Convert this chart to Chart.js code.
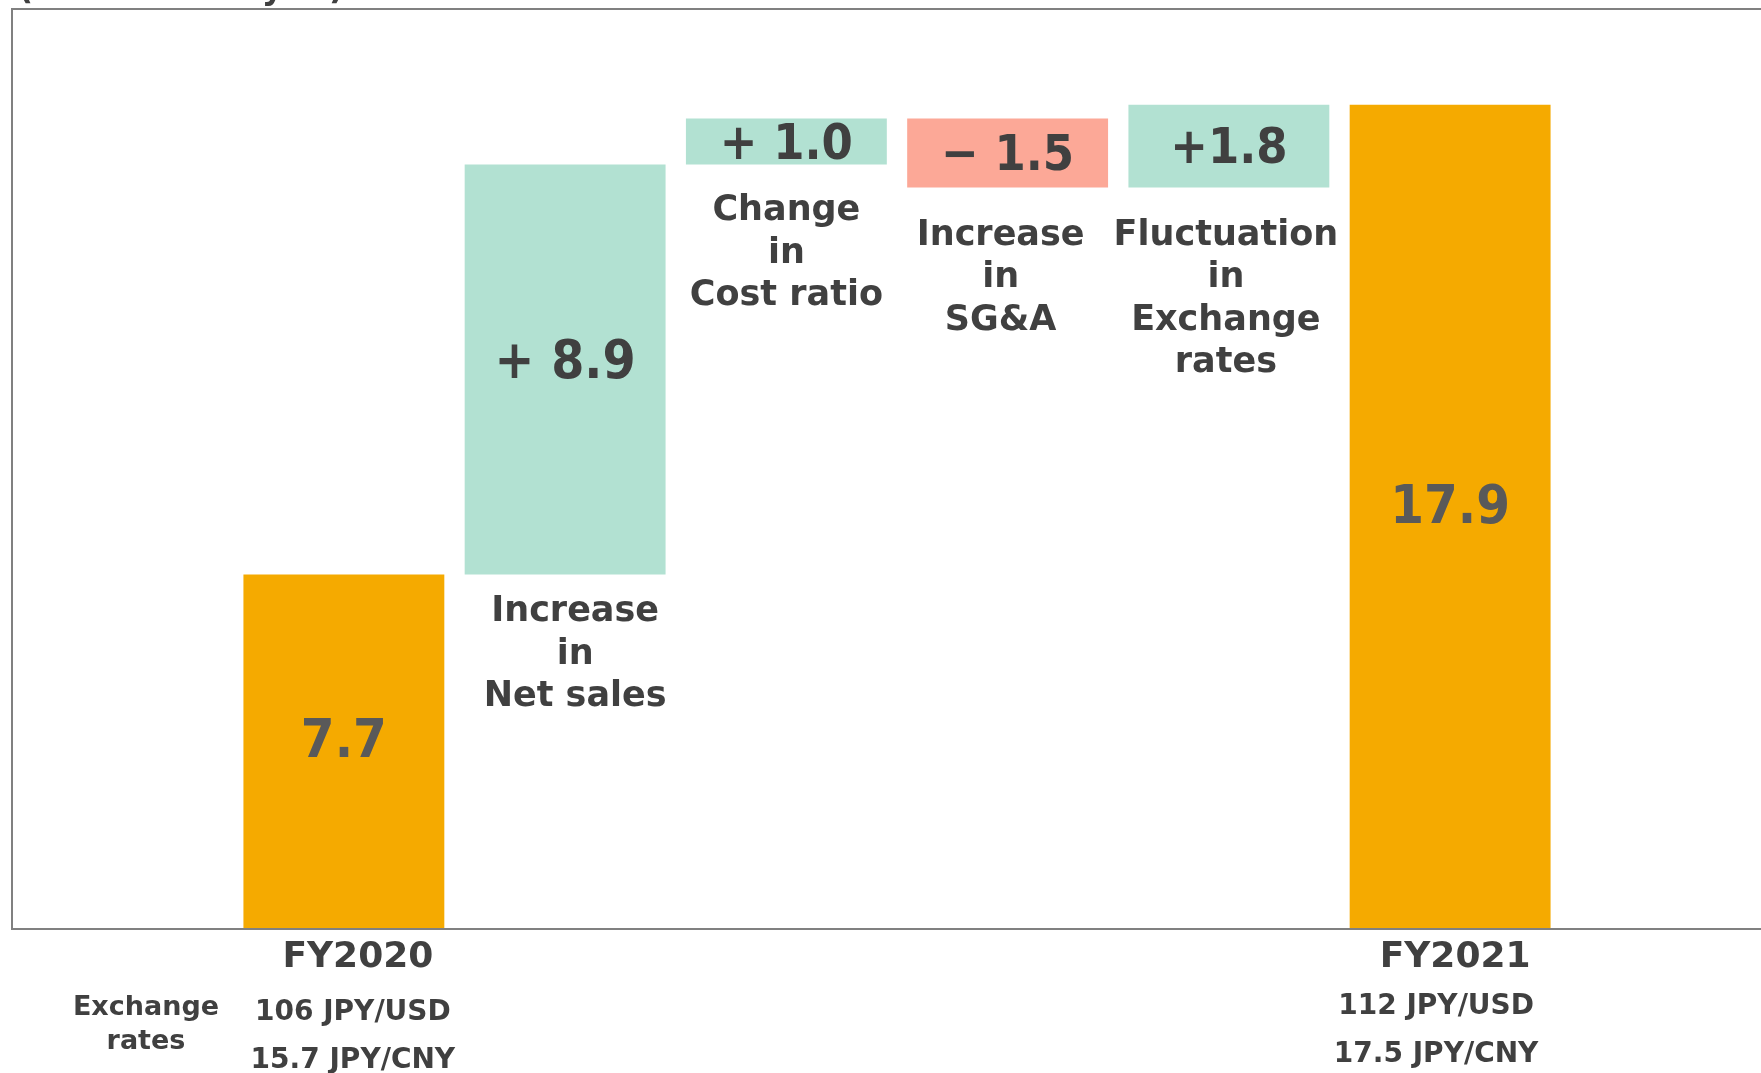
<!DOCTYPE html>
<html>
<head>
<meta charset="utf-8">
<script src="https://cdn.jsdelivr.net/npm/chart.js@4.4.1/dist/chart.umd.min.js"></script>
<style>
  html, body { margin: 0; padding: 0; background: #ffffff; overflow: hidden; }
  #wrap { width: 1761px; height: 1073px; overflow: hidden; position: relative; }
  #c { display: block; }
</style>
</head>
<body>
<div id="wrap"><canvas id="c" width="1782" height="1073"></canvas></div>
<script>
// Operating profit bridge, FY2020 -> FY2021 (billion yen)
const unitNote = '(Unit: billion yen)';
const totalLabels = ['FY2020', 'FY2021'];
const totalValues = [7.7, 17.9];
const stepLabels = [
  ['Increase', 'in', 'Net sales'],
  ['Change', 'in', 'Cost ratio'],
  ['Increase', 'in', 'SG&A'],
  ['Fluctuation', 'in', 'Exchange', 'rates']
];
const stepValues = [8.9, 1.0, -1.5, 1.8];
const stepSignGap = [' ', ' ', ' ', ''];
const rateTitle = ['Exchange', 'rates'];
const ratesStart = ['106 JPY/USD', '15.7 JPY/CNY'];
const ratesEnd = ['112 JPY/USD', '17.5 JPY/CNY'];
const yMin = 0, yMax = 20;

const COL_TOTAL = '#F5AA00';
const COL_UP = '#B2E1D2';
const COL_DOWN = '#FCA897';
const TXT_DARK = '#404040';
const TXT_GREY = '#595959';
const WORD_FONT = '"DejaVu Sans", sans-serif';
const NUM_FONT = '"DejaVu Sans Condensed", "DejaVu Sans", sans-serif';

// categories: an empty slot on each side of the bridge
const categories = ['', totalLabels[0], ...stepLabels.map(l => l.join(' ')), totalLabels[1], ''];

// floating bars built from the running total
const bars = [null, [0, totalValues[0]]];
const colors = ['rgba(0,0,0,0)', COL_TOTAL];
let level = totalValues[0];
stepValues.forEach(v => {
  const next = Math.round((level + v) * 10) / 10;
  bars.push([Math.min(level, next), Math.max(level, next)]);
  colors.push(v >= 0 ? COL_UP : COL_DOWN);
  level = next;
});
bars.push([0, totalValues[1]]);
colors.push(COL_TOTAL);
bars.push(null);
colors.push('rgba(0,0,0,0)');

function fmtStep(v, i) {
  const sign = v >= 0 ? '+' : '\u2212';
  return sign + stepSignGap[i] + Math.abs(v).toFixed(1);
}

// caption placement under each step bar: horizontal nudge and gap below the bar
const captionShift = [10, 0, -7, -3];
const captionGap = [34, 43, 44.5, 44.5];

const decor = {
  id: 'decor',
  afterDatasetsDraw(chart) {
    const ctx = chart.ctx;
    const area = chart.chartArea;
    const meta = chart.getDatasetMeta(0);
    const W = chart.width;
    ctx.save();

    // plot frame: top, left and the baseline
    ctx.strokeStyle = '#808080';
    ctx.lineWidth = 2;
    ctx.beginPath();
    ctx.moveTo(area.left, area.top + 1); ctx.lineTo(W, area.top + 1);
    ctx.moveTo(area.left, area.top); ctx.lineTo(area.left, area.bottom + 1);
    ctx.moveTo(area.left, area.bottom); ctx.lineTo(W, area.bottom);
    ctx.stroke();

    ctx.textAlign = 'center';
    ctx.textBaseline = 'alphabetic';
    const put = (text, x, cy, size, family, color) => {
      ctx.font = 'bold ' + size + 'px ' + family;
      ctx.fillStyle = color;
      ctx.fillText(text, x, cy + size * 0.365);
    };

    // unit note, mostly above the top edge
    ctx.textAlign = 'left';
    ctx.font = 'bold 33px ' + WORD_FONT;
    ctx.fillStyle = TXT_DARK;
    ctx.fillText(unitNote, 18, -1);
    ctx.textAlign = 'center';

    // totals
    const fyShift = [14, 5];
    [1, 6].forEach((idx, k) => {
      const el = meta.data[idx];
      const mid = (el.y + el.base) / 2;
      put(totalValues[k].toFixed(1), el.x, mid - 14, 54, NUM_FONT, TXT_GREY);
      put(totalLabels[k], el.x + fyShift[k], area.bottom + 25, 36, WORD_FONT, TXT_DARK);
    });

    // steps
    stepValues.forEach((v, i) => {
      const el = meta.data[i + 2];
      const top = Math.min(el.y, el.base), bot = Math.max(el.y, el.base);
      const mid = (top + bot) / 2;
      put(fmtStep(v, i), el.x, mid + (i === 0 ? -11 : -1), i === 0 ? 53 : 50, NUM_FONT, TXT_DARK);
      stepLabels[i].forEach((line, j) => {
        put(line, el.x + captionShift[i], bot + captionGap[i] + j * 42.5, 35, WORD_FONT, TXT_DARK);
      });
    });

    // exchange rates under the axis
    const e0 = meta.data[1], e1 = meta.data[6];
    rateTitle.forEach((t, j) => put(t, area.left + 134, area.bottom + 76 + j * 34, 27, WORD_FONT, TXT_DARK));
    ratesStart.forEach((t, j) => put(t, e0.x + 9, area.bottom + 81 + j * 48, 28, WORD_FONT, TXT_DARK));
    ratesEnd.forEach((t, j) => put(t, e1.x - 14, area.bottom + 75 + j * 48, 28, WORD_FONT, TXT_DARK));

    ctx.restore();
  }
};

new Chart(document.getElementById('c'), {
  type: 'bar',
  data: {
    labels: categories,
    datasets: [{
      data: bars,
      backgroundColor: colors,
      borderWidth: 0,
      categoryPercentage: 1.0,
      barPercentage: 0.908
    }]
  },
  options: {
    responsive: false,
    animation: false,
    layout: { padding: { left: 12, top: 8, right: 0, bottom: 144 } },
    plugins: { legend: { display: false }, tooltip: { enabled: false } },
    scales: {
      x: { display: false, offset: true },
      y: { display: false, min: yMin, max: yMax }
    }
  },
  plugins: [decor]
});
</script>
</body>
</html>
